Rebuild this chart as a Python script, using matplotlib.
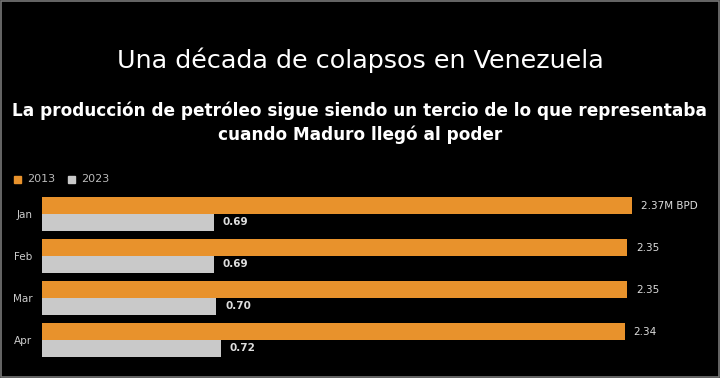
import matplotlib
matplotlib.use("Agg")
import matplotlib.pyplot as plt
from matplotlib.patches import Rectangle
import numpy as np

months = ["Jan", "Feb", "Mar", "Apr"]
prod_2013 = [2.37, 2.35, 2.35, 2.34]
prod_2023 = [0.69, 0.69, 0.70, 0.72]
labels_2013 = ["2.37M BPD", "2.35", "2.35", "2.34"]
labels_2023 = ["0.69", "0.69", "0.70", "0.72"]

ORANGE = "#e8922c"
GREY = "#c9c9c9"
BG = "#000000"

fig = plt.figure(figsize=(7.2, 3.78), dpi=100, facecolor=BG)

fig.text(0.5, 1 - 60 / 378, "Una década de colapsos en Venezuela",
         ha="center", va="center", fontsize=18.3, color="white",
         family="DejaVu Sans")
fig.text(0.5, 1 - 123 / 378,
         "La producción de petróleo sigue siendo un tercio de lo que representaba\n"
         "cuando Maduro llegó al poder",
         ha="center", va="center", fontsize=12.2, color="white",
         fontweight="bold", linespacing=1.35, family="DejaVu Sans")

# legend
fig.add_artist(Rectangle((14 / 720, 1 - 183 / 378), 7 / 720, 7 / 378,
                         transform=fig.transFigure, color=ORANGE))
fig.text(27 / 720, 1 - 179.5 / 378, "2013", color="#bbbbbb", fontsize=8,
         va="center")
fig.add_artist(Rectangle((68 / 720, 1 - 183 / 378), 7 / 720, 7 / 378,
                         transform=fig.transFigure, color=GREY))
fig.text(81 / 720, 1 - 179.5 / 378, "2023", color="#bbbbbb", fontsize=8,
         va="center")

ax = fig.add_axes([42 / 720, 1 - 363 / 378, 678 / 720, 172 / 378])
ax.set_facecolor(BG)
y = np.arange(len(months))
h = 0.4
ax.barh(y - h / 2, prod_2013, height=h, color=ORANGE)
ax.barh(y + h / 2, prod_2023, height=h, color=GREY)
for yi, v, lab in zip(y, prod_2013, labels_2013):
    ax.text(v + 0.035, yi - h / 2, lab, color="#dddddd", fontsize=7.5,
            va="center")
for yi, v, lab in zip(y, prod_2023, labels_2023):
    ax.text(v + 0.035, yi + h / 2, lab, color="#dddddd", fontsize=7.5,
            va="center", fontweight="bold")

ax.set_xlim(0, 678 / 249)
ax.set_ylim(3.55, -0.55)
ax.set_yticks(y)
ax.set_yticklabels(months, color="#cccccc", fontsize=7.5)
ax.tick_params(axis="y", length=0, pad=7)
ax.set_xticks([])
for s in ax.spines.values():
    s.set_visible(False)

fig.add_artist(Rectangle((0.002, 0.003), 0.996, 0.994, transform=fig.transFigure,
                         fill=False, edgecolor="#777777", linewidth=1.2))

fig.savefig("out.png", dpi=100, facecolor=BG)
